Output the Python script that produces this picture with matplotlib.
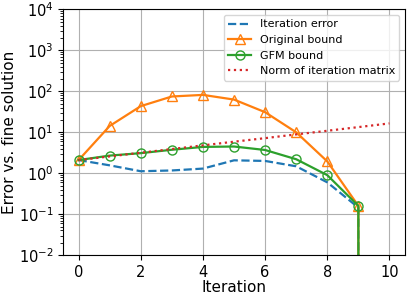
import matplotlib

matplotlib.use("Agg")
import matplotlib.pyplot as plt
import numpy as np

iterations = np.arange(0, 11)
iteration_error = [2.1, 1.56, 1.12, 1.17, 1.3, 2.07, 2.0, 1.48, 0.6, 0.145, 0.0]
original_bound = [2.1, 14.3, 43.6, 75.0, 82.0, 63.0, 31.0, 10.0, 1.95, 0.16, 0.0]
gfm_bound = [2.1, 2.7, 3.1, 3.75, 4.4, 4.5, 3.7, 2.2, 0.9, 0.16, 0.0]
matrix_norm = [2.1, 2.58, 3.17, 3.9, 4.8, 5.9, 7.2, 8.9, 10.9, 13.4, 16.5]

plt.rcParams["font.size"] = 11

fig, ax = plt.subplots(figsize=(4.07, 2.96), dpi=100)
ax.plot(iterations, iteration_error, "--", color="C0", linewidth=1.6, label="Iteration error")
ax.plot(iterations, original_bound, "-^", color="C1", fillstyle="none", linewidth=1.6, markersize=6.5, label="Original bound")
ax.plot(iterations, gfm_bound, "-o", color="C2", fillstyle="none", linewidth=1.6, markersize=6.5, label="GFM bound")
ax.plot(iterations, matrix_norm, ":", color="C3", linewidth=1.6, label="Norm of iteration matrix")
ax.set_yscale("log")
ax.set_ylim(1e-2, 1e4)
ax.set_xlim(-0.5, 10.5)
ax.set_xticks([0, 2, 4, 6, 8, 10])
ax.tick_params(labelsize=10.5)
ax.set_xlabel("Iteration", labelpad=0)
ax.set_ylabel("Error vs. fine solution", labelpad=1)
ax.grid(True)
ax.legend(loc="upper right", fontsize=8)
fig.subplots_adjust(left=0.155, right=0.995, top=0.968, bottom=0.138)
fig.savefig("out.png", dpi=100)
plt.close(fig)
